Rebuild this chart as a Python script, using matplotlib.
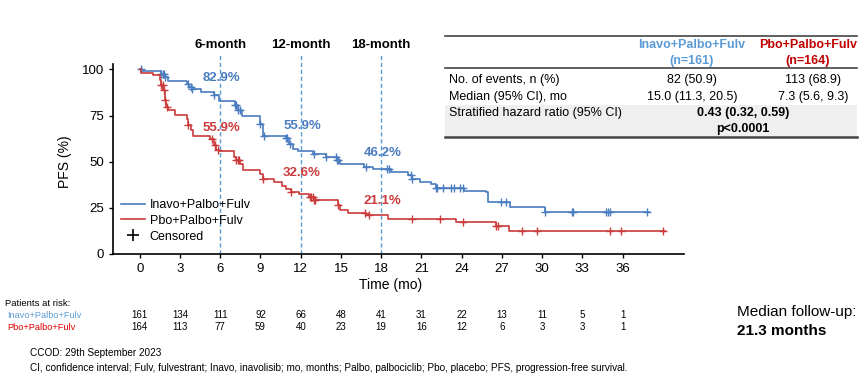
import numpy as np
import matplotlib
matplotlib.use("Agg")
import matplotlib.pyplot as plt
from matplotlib.lines import Line2D
from matplotlib.patches import Rectangle
from matplotlib.transforms import blended_transform_factory

plt.rcParams['font.family'] = ['Liberation Sans', 'DejaVu Sans']
NARROW = ['Liberation Sans Narrow', 'Liberation Sans', 'DejaVu Sans']

# Kaplan-Meier steps (time in months, PFS in %)
inavo_t = [0, 0.2, 1.6, 1.9, 2.1, 3.5, 3.7, 3.9, 4.6, 5.5, 5.9, 7.1, 7.3, 7.6, 9.0, 9.2,
           10.9, 11.1, 11.4, 11.8, 12.9, 13.9, 14.7, 14.9, 16.7, 17.4, 18.7, 20.0, 20.3,
           20.9, 21.7, 22.1, 24.2, 25.8, 26.0, 27.6, 30.2]
inavo_s = [100, 99.4, 97.8, 96.0, 94.0, 92.0, 90.6, 89.3, 87.8, 86.0, 82.9, 81.0, 78.0, 74.6,
           70.7, 63.8, 63.0, 59.8, 57.0, 55.9, 54.3, 52.5, 50.7, 48.9, 47.1, 46.2, 44.4, 42.6,
           40.8, 39.0, 38.0, 35.8, 34.4, 33.5, 28.0, 25.3, 23.0]
inavo_end = 38.0
inavo_cens = [0.1, 1.6, 1.7, 1.8, 1.9, 3.6, 3.8, 3.9, 5.5, 7.1, 7.2, 7.3, 7.5, 9.0, 9.3, 10.9,
              11.0, 11.2, 13.0, 13.9, 14.6, 14.7, 14.8, 16.9, 18.4, 18.6, 20.2, 20.3, 22.1,
              22.2, 22.6, 23.2, 23.4, 23.9, 24.1, 26.9, 27.3, 30.2, 32.2, 32.3, 34.8, 34.9,
              35.1, 37.8]

pbo_t = [0, 0.1, 1.0, 1.5, 1.6, 1.75, 1.9, 1.95, 2.1, 2.6, 3.5, 3.6, 3.85, 4.0, 5.2, 5.5, 5.7,
         5.9, 7.0, 7.2, 7.5, 7.7, 9.0, 9.2, 10.0, 10.6, 10.9, 11.3, 11.9, 12.6, 13.0, 14.8,
         14.9, 15.5, 16.9, 18.5, 23.6, 26.6, 27.5]
pbo_s = [100, 98.2, 96.9, 94.2, 91.5, 88.8, 83.3, 79.7, 77.9, 75.2, 73.4, 69.7, 67.0, 63.8,
         62.5, 58.9, 56.5, 55.9, 52.5, 50.7, 48.9, 45.3, 43.5, 40.8, 39.0, 37.1, 35.3, 33.6,
         32.6, 30.8, 29.0, 26.3, 24.0, 22.0, 21.1, 19.0, 17.2, 15.4, 12.3]
pbo_end = 39.2
pbo_cens = [1.6, 1.7, 1.8, 1.9, 2.0, 3.6, 5.4, 5.6, 5.8, 7.2, 7.3, 7.4, 9.2, 11.3, 12.7, 12.8,
            12.9, 13.0, 13.1, 14.8, 16.8, 17.1, 20.3, 22.4, 24.1, 26.6, 26.7, 28.5, 29.6,
            35.1, 35.9, 39.0]

landmarks = [6, 12, 18]
landmark_names = ['6-month', '12-month', '18-month']
inavo_pct = ['82.9%', '55.9%', '46.2%']
pbo_pct = ['55.9%', '32.6%', '21.1%']

risk_times = [0, 3, 6, 9, 12, 15, 18, 21, 24, 27, 30, 33, 36]
inavo_risk = [161, 134, 111, 92, 66, 48, 41, 31, 22, 13, 11, 5, 1]
pbo_risk = [164, 113, 77, 59, 40, 23, 19, 16, 12, 6, 3, 3, 1]

arm_names = ['Inavo+Palbo+Fulv', 'Pbo+Palbo+Fulv']
arm_n = ['(n=161)', '(n=164)']
row_names = ['No. of events, n (%)', 'Median (95% CI), mo', 'Stratified hazard ratio (95% CI)']
inavo_vals = ['82 (50.9)', '15.0 (11.3, 20.5)']
pbo_vals = ['113 (68.9)', '7.3 (5.6, 9.3)']
hr_text = '0.43 (0.32, 0.59)'
p_text = 'p<0.0001'

BLUE = '#4a7cc0'
RED = '#cc3b3b'
LBLUE = '#5b9bd5'
HRED = '#c00000'

fig = plt.figure(figsize=(8.65, 3.76), dpi=100)
ax = fig.add_axes([0.1306, 0.3245, 0.6604, 0.5064])


def km(ax, t, s, end, cens, color):
    tt = list(t) + [end]
    ss = list(s) + [s[-1]]
    ax.step(tt, ss, where='post', color=color, lw=1.2)
    idx = np.searchsorted(np.array(t), np.array(cens), side='right') - 1
    cy = np.array(s)[idx]
    ax.plot(cens, cy, ls='none', marker='+', ms=6, mew=1.0, color=color)


km(ax, inavo_t, inavo_s, inavo_end, inavo_cens, BLUE)
km(ax, pbo_t, pbo_s, pbo_end, pbo_cens, RED)

for x in landmarks:
    ax.axvline(x, ymin=0, ymax=1.045, color=LBLUE, ls=(0, (3, 2)), lw=1.0, clip_on=False, zorder=0)

ax.set_xlim(-2, 40.6)
ax.set_ylim(0, 103.2)
ax.set_xticks(risk_times)
ax.set_yticks([0, 25, 50, 75, 100])
ax.tick_params(labelsize=9.5, length=3, width=1)
for sp in ['top', 'right']:
    ax.spines[sp].set_visible(False)
for sp in ['left', 'bottom']:
    ax.spines[sp].set_linewidth(1.2)

# landmark labels
btr = blended_transform_factory(ax.transData, fig.transFigure)
for x, name in zip(landmarks, landmark_names):
    fig.text(x, 0.880, name, transform=btr, ha='center', va='center', fontsize=9.5, fontweight='bold')

inavo_lab_y = [95.4, 69.4, 54.7]
pbo_lab_y = [68.3, 43.9, 28.7]
for x, p, y in zip(landmarks, inavo_pct, inavo_lab_y):
    ax.text(x + 0.1, y, p, color=BLUE, ha='center', va='center', fontsize=9.5, fontweight='bold')
for x, p, y in zip(landmarks, pbo_pct, pbo_lab_y):
    ax.text(x + 0.1, y, p, color=RED, ha='center', va='center', fontsize=9.5, fontweight='bold')

handles = [Line2D([], [], color=BLUE, lw=1.2),
           Line2D([], [], color=RED, lw=1.2),
           Line2D([], [], color='black', ls='none', marker='+', ms=9, mew=1.2)]
ax.legend(handles, arm_names + ['Censored'], loc='lower left', bbox_to_anchor=(0.014, 0.06),
          frameon=False, fontsize=9, handlelength=1.9, handletextpad=0.4, labelspacing=0.3,
          borderpad=0, borderaxespad=0)

fig.text(0.075, 0.569, 'PFS (%)', rotation=90, ha='center', va='center', fontsize=10)
fig.text(0.451, 0.242, 'Time (mo)', ha='center', va='center', fontsize=10)

# patients at risk
fig.text(0.006, 0.1915, 'Patients at risk:', ha='left', va='center', fontsize=6.8)
fig.text(0.008, 0.162, arm_names[0], ha='left', va='center', fontsize=6.6, color=LBLUE)
fig.text(0.008, 0.130, arm_names[1], ha='left', va='center', fontsize=6.6, color='#e00000')
for x, a, b in zip(risk_times, inavo_risk, pbo_risk):
    fig.text(x, 0.162, str(a), transform=btr, ha='center', va='center', fontsize=7)
    fig.text(x, 0.130, str(b), transform=btr, ha='center', va='center', fontsize=7)

fig.text(0.852, 0.170, 'Median follow-up:', ha='left', va='center', fontsize=11)
fig.text(0.852, 0.120, '21.3 months', ha='left', va='center', fontsize=11, fontweight='bold')

fig.text(0.035, 0.061, 'CCOD: 29th September 2023', ha='left', va='center', fontsize=7.2, family=NARROW)
fig.text(0.035, 0.021, 'CI, confidence interval; Fulv, fulvestrant; Inavo, inavolisib; mo, months; '
         'Palbo, palbociclib; Pbo, placebo; PFS, progression-free survival.',
         ha='left', va='center', fontsize=7.2, family=NARROW)

# summary table
tx0, tx1 = 0.5145, 0.9908
fig.add_artist(Rectangle((tx0, 0.6356), tx1 - tx0, 0.7207 - 0.6356, transform=fig.transFigure,
                         facecolor='#efefef', edgecolor='none'))
fig.add_artist(Line2D([tx0, tx1], [0.9043, 0.9043], transform=fig.transFigure, color='#444444', lw=1.2))
fig.add_artist(Line2D([tx0, tx1], [0.8191, 0.8191], transform=fig.transFigure, color='#444444', lw=1.2))
fig.add_artist(Line2D([tx0, tx1], [0.6356, 0.6356], transform=fig.transFigure, color='#444444', lw=1.8))

col_x = [0.800, 0.934]
hcolors = [LBLUE, HRED]
for cx, name, n, c in zip(col_x, arm_names, arm_n, hcolors):
    fig.text(cx, 0.880, name, ha='center', va='center', fontsize=9, fontweight='bold', color=c)
    fig.text(cx, 0.8386, n, ha='center', va='center', fontsize=9, fontweight='bold', color=c)

row_y = [0.787, 0.743, 0.6995]
for y, name in zip(row_y, row_names):
    fig.text(0.519, y, name, ha='left', va='center', fontsize=9)
for y, a, b in zip(row_y[:2], inavo_vals, pbo_vals):
    fig.text(col_x[0], y, a, ha='center', va='center', fontsize=9)
    fig.text(0.940, y, b, ha='center', va='center', fontsize=9)
fig.text(0.859, 0.6995, hr_text, ha='center', va='center', fontsize=9, fontweight='bold')
fig.text(0.859, 0.657, p_text, ha='center', va='center', fontsize=9, fontweight='bold')

fig.savefig('out.png', dpi=100)
